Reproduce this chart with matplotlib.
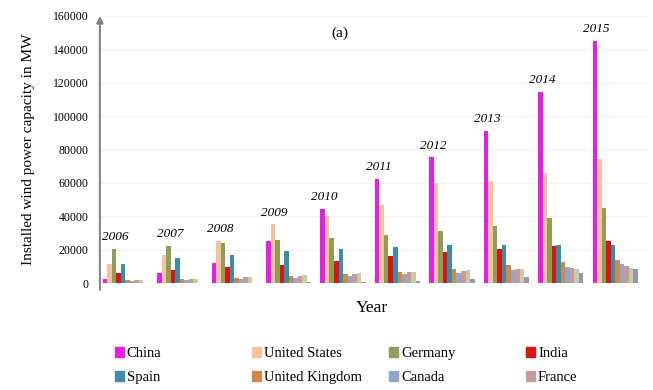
import numpy as np
import matplotlib.pyplot as plt
from matplotlib.patches import Patch

plt.rcParams['font.family'] = ['Liberation Serif', 'DejaVu Serif']

years = ['2006', '2007', '2008', '2009', '2010', '2011', '2012', '2013', '2014', '2015']
countries = ['China', 'United States', 'Germany', 'India', 'Spain',
             'United Kingdom', 'Canada', 'France', 'Italy', 'Brazil']
colors = ['#e61ee6', '#f5c29c', '#8c9e58', '#d81414', '#3a8fa8',
          '#d2884c', '#92a8c8', '#c99a9a', '#c8cba6', '#9494b4']

# installed capacity in MW
china = [2600, 5900, 12200, 25100, 44700, 62400, 75300, 91400, 114600, 145100]
usa = [11600, 16800, 25200, 35200, 40200, 46900, 60000, 61100, 65900, 74500]
germany = [20600, 22200, 23900, 25800, 27200, 29100, 31300, 34300, 39200, 44900]
india = [6300, 7900, 9600, 10900, 13100, 16100, 18400, 20200, 22500, 25100]
spain = [11600, 15100, 16700, 19100, 20700, 21700, 22800, 23000, 23000, 23000]
uk = [2000, 2400, 3200, 4100, 5200, 6500, 8400, 10700, 12400, 13600]
canada = [1500, 1800, 2400, 3300, 4000, 5300, 6200, 7800, 9700, 11200]
france = [1600, 2500, 3400, 4500, 5700, 6800, 7200, 8300, 9300, 10400]
italy = [2100, 2700, 3700, 4900, 5800, 6700, 8100, 8600, 8700, 9000]
brazil = [240, 250, 340, 600, 930, 1500, 2500, 3400, 5900, 8700]

data = [china, usa, germany, india, spain, uk, canada, france, italy, brazil]

fig = plt.figure(figsize=(6.53, 3.9), dpi=100)
ax = fig.add_axes([0.153, 0.274, 0.839, 0.685])

x = np.arange(len(years))
step = 0.083
width = 0.083
for j, (vals, c) in enumerate(zip(data, colors)):
    ax.bar(x + j * step, vals, width, color=c, lw=0, zorder=3)

# year label above the tallest bar of each group
arr = np.array(data)
for i, yr in enumerate(years):
    jmax = int(np.argmax(arr[:, i]))
    ax.text(x[i] + jmax * step + 0.03, arr[jmax, i] + 3500, yr, ha='center', va='bottom',
            fontsize=9.5, style='italic')

ax.set_xlim(-0.092, 9.97)
ax.set_ylim(0, 160000)
ax.set_yticks(np.arange(0, 160001, 20000))
ax.tick_params(axis='y', length=0, pad=8, labelsize=8.5)
ax.set_xticks([])
ax.grid(axis='y', color='#f1f1f1', lw=0.8, zorder=0)
for s in ax.spines.values():
    s.set_visible(False)
ax.annotate('', xy=(0, 1.0), xytext=(0, -0.025), xycoords='axes fraction',
            arrowprops=dict(arrowstyle='-|>', color='#7f7f7f', lw=1.4,
                            mutation_scale=10, shrinkA=0, shrinkB=0))

ax.set_ylabel('Installed wind power capacity in MW', fontsize=11, labelpad=13)
fig.text(0.52, 0.915, '(a)', fontsize=11, ha='center', va='center')
fig.text(0.57, 0.21, 'Year', fontsize=12.5, ha='center', va='center')

# legend: 4 columns of 2 rows, evenly spaced
col_x = [0.165, 0.375, 0.585, 0.795]
for k in range(4):
    handles = [Patch(color=colors[k]), Patch(color=colors[k + 4])]
    labels = [countries[k], countries[k + 4]]
    fig.legend(handles, labels, loc='upper left', bbox_to_anchor=(col_x[k], 0.13),
               frameon=False, fontsize=10.5, handlelength=0.6, handleheight=0.7,
               handletextpad=0.2, labelspacing=0.75, borderpad=0)

fig.savefig('out.png', dpi=100)
